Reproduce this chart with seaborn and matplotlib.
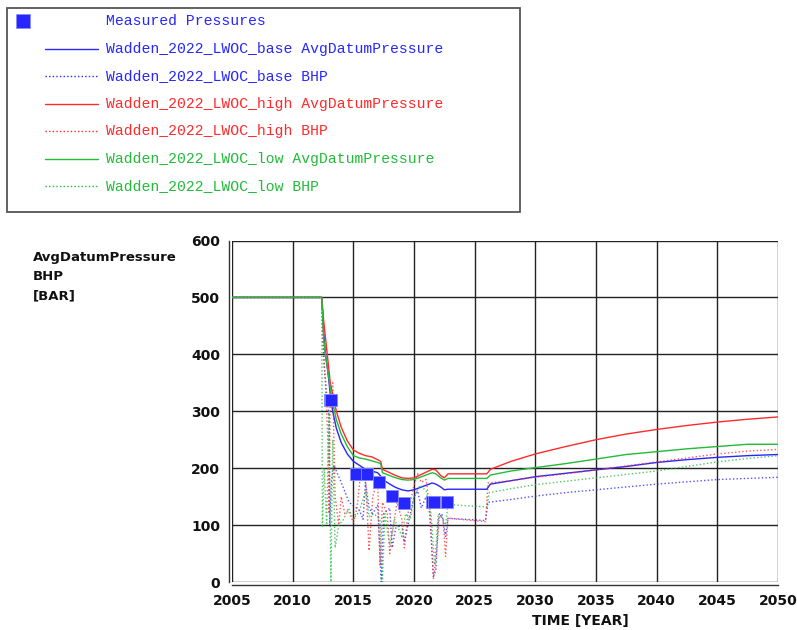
import numpy as np
import pandas as pd
import matplotlib
matplotlib.use("Agg")
import matplotlib.pyplot as plt
from matplotlib.patches import Rectangle
import seaborn as sns

# ---------------- data ----------------
base_avg_year = [2005, 2012.4, 2012.55, 2012.7, 2012.9, 2013.1, 2013.3, 2013.6, 2014.0, 2014.5, 2015.0,
                 2015.5, 2016.0, 2016.5, 2017.0, 2017.3, 2017.5, 2018.0, 2018.5, 2019.0, 2019.5, 2020.0,
                 2020.5, 2021.0, 2021.5, 2021.8, 2022.2, 2022.5, 2022.8, 2026.0, 2026.3, 2028, 2030,
                 2032.5, 2035, 2037.5, 2040, 2042.5, 2045, 2047.5, 2050]
base_avg_val = [500, 500, 440, 400, 370, 330, 300, 270, 245, 225, 212,
                205, 198, 195, 192, 185, 179, 172, 166, 162, 160, 162,
                166, 170, 174, 172, 167, 162, 163, 163, 172, 178, 185,
                191, 197, 203, 210, 215, 219, 222, 224]

high_avg_year = [2005, 2012.4, 2012.55, 2012.7, 2012.9, 2013.1, 2013.3, 2013.6, 2014.0, 2014.5, 2015.0,
                 2015.5, 2016.0, 2016.5, 2017.0, 2017.25, 2017.4, 2018.0, 2018.5, 2019.0, 2019.5, 2020.0,
                 2020.5, 2021.0, 2021.5, 2021.8, 2022.2, 2022.5, 2022.8, 2026.0, 2026.3, 2028, 2030,
                 2032.5, 2035, 2037.5, 2040, 2042.5, 2045, 2047.5, 2050]
high_avg_val = [500, 500, 460, 430, 390, 350, 330, 300, 272, 248, 232,
                226, 222, 220, 215, 212, 198, 192, 187, 183, 182, 183,
                188, 193, 198, 197, 187, 183, 190, 190, 198, 212, 225,
                238, 250, 260, 268, 275, 281, 286, 290]

low_avg_year = [2005, 2012.4, 2012.55, 2012.7, 2012.9, 2013.1, 2013.3, 2013.6, 2014.0, 2014.5, 2015.0,
                2015.5, 2016.0, 2016.5, 2017.0, 2017.25, 2017.4, 2018.0, 2018.5, 2019.0, 2019.5, 2020.0,
                2020.5, 2021.0, 2021.5, 2021.8, 2022.2, 2022.5, 2022.8, 2026.0, 2026.3, 2028, 2030,
                2032.5, 2035, 2037.5, 2040, 2042.5, 2045, 2047.5, 2050]
low_avg_val = [500, 500, 430, 400, 370, 340, 315, 285, 260, 238, 222,
               218, 216, 213, 210, 208, 192, 187, 183, 180, 179, 180,
               184, 188, 192, 190, 183, 179, 182, 182, 188, 195, 201,
               208, 216, 224, 229, 234, 238, 242, 242]

base_bhp_year = [2005, 2012.4, 2012.5, 2012.6, 2012.8, 2013.0, 2013.05, 2013.2, 2013.4, 2014.0, 2014.65,
                 2015.5, 2015.8, 2016.0, 2016.3, 2016.6, 2017.0, 2017.3, 2017.5, 2018.0, 2018.2, 2018.5,
                 2019.0, 2019.2, 2019.5, 2020.0, 2020.3, 2020.6, 2021.0, 2021.3, 2021.6, 2021.8, 2022.0,
                 2022.3, 2022.6, 2022.8, 2025.9, 2026.1, 2028, 2030, 2032.5, 2035, 2037.5, 2040,
                 2042.5, 2045, 2047.5, 2050]
base_bhp_val = [500, 500, 430, 380, 330, 290, 100, 180, 205, 175, 140,
                126, 110, 175, 130, 120, 135, 0, 120, 130, 60, 95,
                100, 70, 100, 150, 160, 130, 150, 120, 10, 20, 110,
                120, 80, 112, 108, 140, 145, 151, 157, 162, 167, 172,
                176, 180, 182, 184]

high_bhp_year = [2005, 2012.4, 2012.5, 2012.7, 2012.9, 2013.0, 2013.1, 2013.3, 2013.5, 2013.8, 2014.0,
                 2014.3, 2014.6, 2015.0, 2015.3, 2015.6, 2016.0, 2016.3, 2016.6, 2017.0, 2017.2, 2017.4,
                 2017.8, 2018.0, 2018.3, 2018.6, 2019.0, 2019.2, 2019.5, 2020.0, 2020.3, 2020.6, 2021.0,
                 2021.3, 2021.6, 2021.9, 2022.1, 2022.4, 2022.6, 2022.8, 2025.9, 2026.1, 2028, 2030,
                 2032.5, 2035, 2037.5, 2040, 2042.5, 2045, 2047.5, 2050]
high_bhp_val = [500, 500, 420, 350, 250, 120, 330, 350, 150, 100, 150,
                120, 125, 105, 130, 190, 185, 55, 150, 180, 30, 140,
                120, 50, 100, 140, 110, 60, 120, 170, 190, 175, 180,
                130, 5, 60, 120, 110, 45, 112, 106, 174, 178, 184,
                190, 197, 204, 211, 218, 225, 230, 233]

low_bhp_year = [2005, 2012.4, 2012.45, 2012.6, 2012.8, 2013.0, 2013.15, 2013.3, 2013.5, 2013.8, 2014.2,
                2014.6, 2015.0, 2015.5, 2016.0, 2016.3, 2016.7, 2017.2, 2017.4, 2017.6, 2018.0, 2018.4,
                2019.0, 2019.3, 2019.7, 2020.0, 2020.5, 2021.0, 2021.4, 2021.7, 2022.0, 2022.4, 2022.6,
                2022.8, 2026.0, 2026.2, 2028, 2030, 2032.5, 2035, 2037.5, 2040, 2042.5, 2045,
                2047.5, 2050]
low_bhp_val = [500, 500, 96, 200, 100, 300, 0, 250, 60, 100, 110,
               130, 110, 125, 160, 115, 120, 110, 0, 120, 65, 110,
               80, 120, 110, 150, 170, 160, 120, 30, 120, 110, 100,
               136, 132, 157, 164, 171, 177, 183, 189, 195, 203, 211,
               217, 222]

meas_year = [2013.1, 2013.2, 2015.2, 2016.15, 2017.1, 2018.2, 2019.2, 2021.45, 2021.65, 2022.7]
meas_val = [320, 320, 190, 190, 176, 151, 139, 141, 141, 141]

series_names = ["Wadden_2022_LWOC_base AvgDatumPressure", "Wadden_2022_LWOC_base BHP",
                "Wadden_2022_LWOC_high AvgDatumPressure", "Wadden_2022_LWOC_high BHP",
                "Wadden_2022_LWOC_low AvgDatumPressure", "Wadden_2022_LWOC_low BHP"]
meas_name = "Measured Pressures"
x_ticks = [2005, 2010, 2015, 2020, 2025, 2030, 2035, 2040, 2045, 2050]
y_ticks = [0, 100, 200, 300, 400, 500, 600]

BLUE, RED, GREEN = "#2626ff", "#ff2a2a", "#22bb3a"
colors = [BLUE, BLUE, RED, RED, GREEN, GREEN]

frames = []
for name, yrs, vals in zip(series_names,
                           [base_avg_year, base_bhp_year, high_avg_year, high_bhp_year, low_avg_year, low_bhp_year],
                           [base_avg_val, base_bhp_val, high_avg_val, high_bhp_val, low_avg_val, low_bhp_val]):
    frames.append(pd.DataFrame({"year": yrs, "value": vals, "series": name}))
df = pd.concat(frames, ignore_index=True)
meas = pd.DataFrame({"year": meas_year, "value": meas_val})

# ---------------- figure ----------------
sns.set_style("white")
plt.rcParams["font.family"] = ["DejaVu Sans"]
fig = plt.figure(figsize=(7.97, 6.30), dpi=100)
W, H = 797, 630
ax = fig.add_axes([232 / W, 1 - 582 / H, (778 - 232) / W, (582 - 240.5) / H])

palette = dict(zip(series_names, colors))
dashes = {n: ("" if "Avg" in n else (1, 1.6)) for n in series_names}
sns.lineplot(data=df, x="year", y="value", hue="series", style="series", palette=palette,
             dashes=dashes, estimator=None, sort=False, linewidth=1.0, legend=False, ax=ax, zorder=3)
for line in ax.get_lines():
    if line.get_linestyle() != "-":
        line.set_alpha(0.8)
sns.scatterplot(data=meas, x="year", y="value", marker="s", s=70, color=BLUE,
                edgecolor="#8a8aff", linewidth=0.6, legend=False, ax=ax, zorder=4)

ax.set_xlim(2005, 2050)
ax.set_ylim(0, 600)
ax.set_xticks(x_ticks)
ax.set_yticks(y_ticks)
ax.grid(True, color="#222222", linewidth=1.0)
ax.set_axisbelow(True)
ax.set_xlabel("")
ax.set_ylabel("")
for s in ["top", "right"]:
    ax.spines[s].set_visible(False)
for s in ["left", "bottom"]:
    ax.spines[s].set_visible(True)
    ax.spines[s].set_color("#333333")
    ax.spines[s].set_linewidth(1.0)
    ax.spines[s].set_position(("outward", 2.5))
ax.tick_params(axis="both", which="major", direction="out", length=4, width=1,
               color="#333333", labelsize=10, pad=2)
ax.tick_params(axis="x", pad=2)
for lbl in ax.get_xticklabels() + ax.get_yticklabels():
    lbl.set_fontweight("bold")
    lbl.set_color("#111111")

fig.text(33 / W, 1 - 251 / H, "AvgDatumPressure\nBHP\n[BAR]", ha="left", va="top",
         fontsize=9.5, fontweight="bold", linespacing=1.6, color="#111111")
fig.text(580 / W, 1 - 621 / H, "TIME [YEAR]", ha="center", va="center",
         fontsize=10, fontweight="bold", color="#111111")

# ---------------- legend box ----------------
lax = fig.add_axes([0, 0, 1, 1], zorder=5)
lax.set_xlim(0, W)
lax.set_ylim(H, 0)
lax.axis("off")
lax.patch.set_alpha(0)
lax.add_patch(Rectangle((7, 8), 513, 204, facecolor="white", edgecolor="#555555", linewidth=1.3))
rows = [21, 49, 76, 104, 131, 159, 186]
mono = ["Liberation Mono", "DejaVu Sans Mono"]
lax.add_patch(Rectangle((16, 14), 14, 14, facecolor=BLUE, edgecolor="#8a8aff", linewidth=0.6))
lax.text(106, rows[0], meas_name, color=BLUE, fontsize=10.65, family=mono, va="center", ha="left")
for i, (name, col) in enumerate(zip(series_names, colors)):
    y = rows[i + 1]
    lax.plot([45, 98], [y, y], color=col, linewidth=1.0,
             linestyle="-" if "Avg" in name else (0, (1, 1.6)))
    lax.text(106, y, name, color=col, fontsize=10.65, family=mono, va="center", ha="left")

fig.savefig("out.png", dpi=100)
